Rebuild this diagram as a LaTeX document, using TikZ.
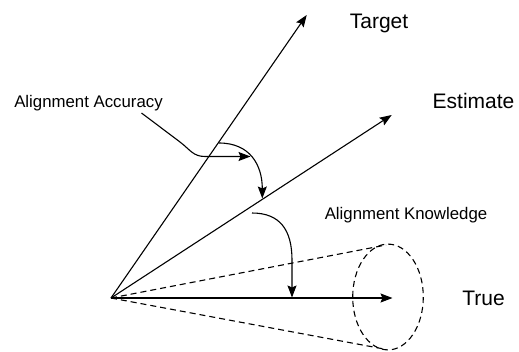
\documentclass[tikz,border=0pt]{standalone}
\usepackage{fontspec}
\setmainfont{Liberation Sans}
\usetikzlibrary{arrows.meta}
\begin{document}
\begin{tikzpicture}[x=1pt,y=-1pt,
  vec/.style={line width=1.1pt,-{Stealth[length=12pt,width=9pt,inset=2pt]}},
  cone/.style={line width=1.1pt,dash pattern=on 6pt off 4pt},
  biglabel/.style={anchor=base,inner sep=0pt,font=\fontsize{21}{25}\selectfont},
  smalllabel/.style={anchor=base,inner sep=0pt,font=\fontsize{16.8}{20}\selectfont}]
\useasboundingbox (0,0) rectangle (519,351);

% origin and vector tips
\coordinate (O) at (111,298);
\coordinate (T) at (306.7,15);
\coordinate (E) at (391.7,115);
\coordinate (R) at (392.5,298);

% uncertainty cone around the true direction
\coordinate (ctop) at (386,245);
\coordinate (cbot) at (384,349);
\draw[cone] (O) -- (ctop);
\draw[cone] (O) -- (cbot);
\draw[cone] (388,297) ellipse [x radius=35.3, y radius=52.9];

% the three vectors
\draw[vec] (O) -- (T);
\draw[vec] (O) -- (E);
\draw[vec] (O) -- (R);

% labels
\node[biglabel] (target) at (379,28) {Target};
\node[biglabel] (estimate) at (473.5,108) {Estimate};
\node[biglabel] (true) at (483.5,305) {True};
\node[smalllabel] (acc) at (88.5,107) {Alignment Accuracy};
\node[smalllabel] (know) at (406,219) {Alignment Knowledge};

% leader from the accuracy label
\coordinate (l0) at (141.5,113);
\coordinate (l1) at (180,142);
\coordinate (l2) at (205,156.5);
\coordinate (l3) at (250.5,156.5);
\draw[vec] (l0) -- (l1) .. controls (190,149.5) and (193,156.5) .. (l2) -- (l3);

% angle from target to estimate
\coordinate (a0) at (219,143);
\coordinate (a1) at (262.3,198.5);
\draw[vec] (a0) .. controls (250,143) and (262.3,165) .. (a1);

% angle from estimate to true
\coordinate (b0) at (252,213);
\coordinate (b1) at (292,260);
\coordinate (b2) at (292,297.5);
\draw[vec] (b0) .. controls (280,213) and (292,230) .. (b1) -- (b2);
\end{tikzpicture}
\end{document}
